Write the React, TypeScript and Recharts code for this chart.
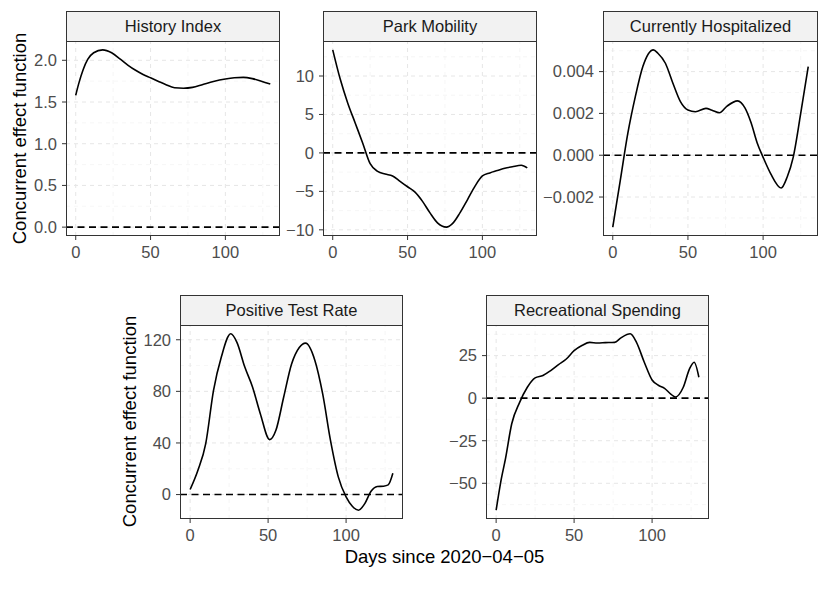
import React from 'react';
import { LineChart, Line, XAxis, YAxis, ReferenceLine } from 'recharts';

// days since 2020-04-05
const X_TICKS = [0, 50, 100];
const X_MINOR = [25, 75, 125];

const historyDays = [0, 2, 5, 8, 12, 18, 24, 30, 35, 40, 45, 50, 55, 60, 66, 72, 78, 85, 92, 100, 106, 112, 118, 124, 130];
const historyValues = [1.58, 1.72, 1.89, 2.01, 2.09, 2.125, 2.09, 2.01, 1.94, 1.88, 1.83, 1.79, 1.75, 1.71, 1.67, 1.665, 1.675, 1.71, 1.745, 1.775, 1.79, 1.795, 1.78, 1.75, 1.715];

const parkDays = [0, 5, 10, 15, 20, 25, 30, 35, 40, 45, 50, 55, 60, 65, 70, 76, 80, 85, 90, 95, 100, 105, 110, 115, 120, 126, 130];
const parkValues = [13.4, 9.6, 6.5, 3.9, 1.3, -1.4, -2.4, -2.75, -3.0, -3.7, -4.4, -5.1, -6.3, -7.8, -9.1, -9.65, -9.2, -7.8, -6.1, -4.35, -3.0, -2.6, -2.3, -2.0, -1.8, -1.6, -1.95];

const hospDays = [0, 5, 10, 15, 20, 27, 30, 35, 40, 45, 50, 55, 62, 66, 71, 76, 83, 88, 92, 96, 100, 105, 112, 116, 120, 125, 130];
const hospValues = [-0.00344, -0.0012, 0.00104, 0.0028, 0.00424, 0.00504, 0.00488, 0.0044, 0.00344, 0.00256, 0.00216, 0.00208, 0.00224, 0.00215, 0.00203, 0.00235, 0.0026, 0.00225, 0.00155, 0.0006, -0.0001, -0.00088, -0.00157, -0.00104, -0.0001, 0.002, 0.00424];

const positiveDays = [0, 5, 10, 15, 20, 26, 30, 35, 40, 45, 51, 55, 60, 65, 70, 74, 80, 85, 90, 95, 100, 104, 108, 112, 116, 120, 124, 127, 130];
const positiveValues = [3.9, 18.8, 39.5, 80.8, 106.6, 124.6, 118, 99, 83.4, 62.7, 42.6, 49.8, 75.6, 101, 114, 117.4, 104, 78, 42, 13.7, -1.8, -9, -12.1, -7, 2.5, 6.2, 6.5, 7.5, 16.5];

const spendingDays = [0, 3, 6, 10, 15, 20, 25, 30, 35, 40, 45, 50, 55, 60, 65, 70, 76, 80, 86, 90, 95, 100, 104, 108, 112, 115, 120, 124, 127, 130];
const spendingValues = [-65.8, -49, -35.5, -15, -2.6, 6.4, 11.9, 13.3, 16.2, 19.7, 23, 27.9, 30.9, 32.8, 32.4, 32.6, 32.8, 35.4, 37.8, 32.8, 21.1, 10.7, 7.6, 5.8, 2.4, 0.7, 6.4, 17.2, 21.1, 12.3];

const STRIP_H = 30;
const Y_AXIS_W = 70;
const X_AXIS_H = 30;
const FONT = '"Liberation Sans", Arial, Helvetica, sans-serif';

type PanelProps = {
  title: string;
  days: number[];
  values: number[];
  left: number;
  right: number;
  stripTop: number;
  plotBottom: number;
  yTicks: number[];
  yMinor: number[];
  digits: number;
};

const minus = (s: string) => s.replace('-', '\u2212');

function Panel(p: PanelProps) {
  const data = p.days.map((d, i) => ({ day: d, value: p.values[i] }));
  const lo = Math.min(0, ...p.values);
  const hi = Math.max(0, ...p.values);
  const pad = (hi - lo) * 0.05;
  const plotW = p.right - p.left;
  const plotH = p.plotBottom - p.stripTop - STRIP_H;
  const width = plotW + Y_AXIS_W + 4;
  const height = plotH + STRIP_H + X_AXIS_H;

  return (
    <div style={{ position: 'absolute', left: p.left - Y_AXIS_W, top: p.stripTop, width, height }}>
      <LineChart width={width} height={height} data={data} margin={{ top: STRIP_H, right: 4, bottom: 0, left: 0 }}>
        <XAxis
          type="number"
          dataKey="day"
          domain={[-6.5, 136.5]}
          ticks={X_TICKS}
          height={X_AXIS_H}
          axisLine={false}
          tickSize={4}
          tickMargin={6}
          tickLine={{ stroke: '#333333' }}
          tick={{ fill: '#4d4d4d', fontSize: 16.5, fontFamily: FONT }}
        />
        <YAxis
          type="number"
          domain={[lo - pad, hi + pad]}
          ticks={p.yTicks}
          width={Y_AXIS_W}
          axisLine={false}
          tickSize={4}
          tickMargin={5}
          tickLine={{ stroke: '#333333' }}
          tick={{ fill: '#4d4d4d', fontSize: 16.5, fontFamily: FONT }}
          tickFormatter={(v: number) => minus(v.toFixed(p.digits))}
        />
        {X_MINOR.map((v) => (
          <ReferenceLine key={'xm' + v} x={v} stroke="#f0f0f0" strokeWidth={0.6} strokeDasharray="4 4" />
        ))}
        {p.yMinor.map((v) => (
          <ReferenceLine key={'ym' + v} y={v} stroke="#f0f0f0" strokeWidth={0.6} strokeDasharray="4 4" />
        ))}
        {X_TICKS.map((v) => (
          <ReferenceLine key={'x' + v} x={v} stroke="#e6e6e6" strokeWidth={1} strokeDasharray="4 4" />
        ))}
        {p.yTicks.map((v) => (
          <ReferenceLine key={'y' + v} y={v} stroke="#e6e6e6" strokeWidth={1} strokeDasharray="4 4" />
        ))}
        <ReferenceLine y={0} stroke="#000000" strokeWidth={1.6} strokeDasharray="7 4.5" />
        <Line type="monotone" dataKey="value" stroke="#000000" strokeWidth={1.6} dot={false} isAnimationActive={false} />
      </LineChart>
      <div
        style={{
          position: 'absolute',
          left: Y_AXIS_W,
          top: 0,
          width: plotW,
          height: STRIP_H + 1,
          boxSizing: 'border-box',
          border: '1px solid #333333',
          background: '#f2f2f2',
          color: '#1a1a1a',
          fontFamily: FONT,
          fontSize: 16.5,
          lineHeight: STRIP_H - 1 + 'px',
          textAlign: 'center',
        }}
      >
        {p.title}
      </div>
      <div
        style={{
          position: 'absolute',
          left: Y_AXIS_W,
          top: STRIP_H,
          width: plotW,
          height: plotH,
          boxSizing: 'border-box',
          border: '1px solid #333333',
          pointerEvents: 'none',
        }}
      />
    </div>
  );
}

export default function App() {
  return (
    <div style={{ position: 'absolute', left: 0, top: 0, width: 830, height: 590, background: '#ffffff', overflow: 'hidden' }}>
      <Panel title="History Index" days={historyDays} values={historyValues} left={66} right={280} stripTop={11} plotBottom={236}
        yTicks={[0, 0.5, 1, 1.5, 2]} yMinor={[0.25, 0.75, 1.25, 1.75]} digits={1} />
      <Panel title="Park Mobility" days={parkDays} values={parkValues} left={323} right={537} stripTop={11} plotBottom={236}
        yTicks={[-10, -5, 0, 5, 10]} yMinor={[-7.5, -2.5, 2.5, 7.5, 12.5]} digits={0} />
      <Panel title="Currently Hospitalized" days={hospDays} values={hospValues} left={603} right={818} stripTop={11} plotBottom={236}
        yTicks={[-0.002, 0, 0.002, 0.004]} yMinor={[-0.003, -0.001, 0.001, 0.003, 0.005]} digits={3} />
      <Panel title="Positive Test Rate" days={positiveDays} values={positiveValues} left={180} right={403} stripTop={295} plotBottom={519}
        yTicks={[0, 40, 80, 120]} yMinor={[20, 60, 100]} digits={0} />
      <Panel title="Recreational Spending" days={spendingDays} values={spendingValues} left={486} right={709} stripTop={295} plotBottom={519}
        yTicks={[-50, -25, 0, 25]} yMinor={[-62.5, -37.5, -12.5, 12.5, 37.5]} digits={0} />
      <svg width={830} height={590} style={{ position: 'absolute', left: 0, top: 0, pointerEvents: 'none' }}>
        <g fontFamily={FONT} fill="#000000">
          <text x={26} y={138.5} fontSize={18.5} textAnchor="middle" transform="rotate(-90 26 138.5)">Concurrent effect function</text>
          <text x={136} y={421.5} fontSize={18.5} textAnchor="middle" transform="rotate(-90 136 421.5)">Concurrent effect function</text>
          <text x={444.5} y={563} fontSize={18.5} textAnchor="middle">Days since 2020{'\u2212'}04{'\u2212'}05</text>
        </g>
      </svg>
    </div>
  );
}
